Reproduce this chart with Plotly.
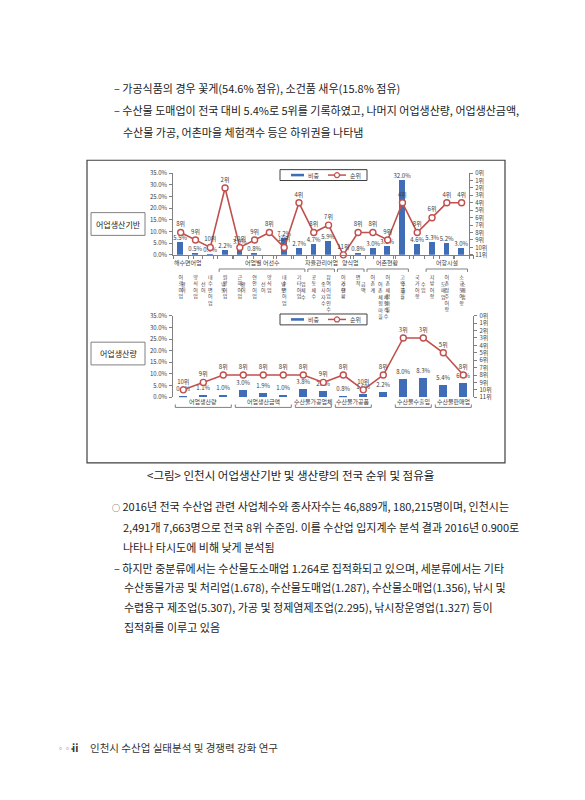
import plotly.graph_objects as go

W, H = 585, 800

# ---------------- data ----------------
cats1 = ["어로어업", "양식어업", "내수면어업", "원양어업", "근해어업", "연안어업", "양식업",
         "내수면어업", "기타어업", "공동체 수", "참여어업인 수", "어가현황", "면적", "어촌계",
         "어촌체험마을", "고령화율", "국가어항", "지방어항", "어촌정주어항", "소규모어항"]
share1 = [5.5, 0.5, 0.3, 2.2, 3.9, 0.8, None, 7.2, 2.7, 4.7, 5.9, None, 0.8, 3.0, 3.6,
          32.0, 4.6, 5.3, 5.2, 3.0]
rank1 = [8, 9, 10, 2, 10, 9, 8, 10, 4, 8, 7, 11, 8, 8, 9, 4, 8, 6, 4, 4]
groups1 = [("해수면어업", 0, 1, False), ("어업별 어선수", 3, 8, True), ("자율관리어업", 9, 10, True),
           ("양식업", 11, 12, True), ("어촌현황", 13, 15, True), ("어항시설", 17, 19, True)]

cats2 = ["활어", "선어", "냉동", "활어", "선어", "냉동", "업체수", "종사자수", "수량", "금액",
         "어촌체험마을 체험객 수", "수출", "수입", "도매업", "소매업"]
share2 = [0.6, 1.1, 1.0, 3.0, 1.9, 1.0, 3.8, 2.9, 0.8, 1.6, 2.2, 8.0, 8.3, 5.4, 6.3]
rank2 = [10, 9, 8, 8, 8, 8, 8, 9, 8, 10, 8, 3, 3, 5, 8]
groups2 = [("어업생산량", 0, 2, True), ("어업생산금액", 3, 5, True), ("수산물가공업체", 6, 7, True),
           ("수산물가공품", 8, 9, True), ("수산물수출입", 11, 12, True), ("수산물판매업", 13, 14, True)]

share_ticks = [0, 5, 10, 15, 20, 25, 30, 35]
rank_ticks = list(range(0, 12))
legend_names = ["비중", "순위"]

top_lines = [
    (112, 84, "– 가공식품의 경우 꽃게(54.6% 점유), 소건품 새우(15.8% 점유)"),
    (112, 106, "– 수산물 도매업이 전국 대비 5.4%로 5위를 기록하였고, 나머지 어업생산량, 어업생산금액,"),
    (121, 128, "수산물 가공, 어촌마을 체험객수 등은 하위권을 나타냄"),
]
caption = "<그림> 인천시 어업생산기반 및 생산량의 전국 순위 및 점유율"
body_lines = [
    (110, 507, "<span style='font-size:8px'>○</span> 2016년 전국 수산업 관련 사업체수와 종사자수는 46,889개, 180,215명이며, 인천시는"),
    (121, 528, "2,491개 7,663명으로 전국 8위 수준임. 이를 수산업 입지계수 분석 결과 2016년 0.900로"),
    (121, 548, "나타나 타시도에 비해 낮게 분석됨"),
    (112, 569, "– 하지만 중분류에서는 수산물도소매업 1.264로 집적화되고 있으며, 세분류에서는 기타"),
    (122, 589, "수산동물가공 및 처리업(1.678), 수산물도매업(1.287), 수산물소매업(1.356), 낚시 및"),
    (122, 609, "수렵용구 제조업(5.307), 가공 및 정제염제조업(2.295), 낚시장운영업(1.327) 등이"),
    (122, 629, "집적화를 이루고 있음"),
]
footer = "인천시 수산업 실태분석 및 경쟁력 강화 연구"

FONT = "Noto Sans CJK KR"
BAR = "#3F6DB8"
LINE = "#C0504D"
TXT = "#404040"


def X(px):
    return px / W


def Y(py):
    return 1 - py / H


def stack(label):
    words = label.split(" ")
    if len(label.replace(" ", "")) >= 10:
        c1 = words[0]
        c2 = "".join(words[1:])
        rows = []
        n = max(len(c1), len(c2) + 2)
        for i in range(n):
            a = c1[i] if i < len(c1) else "　"
            j = i - 2
            b = c2[j] if 0 <= j < len(c2) else "　"
            rows.append(a + " " + b)
        return "<br>".join(rows)
    return "<br>".join(list(label.replace(" ", "")))


fig = go.Figure()

idx1 = list(range(len(cats1)))
idx2 = list(range(len(cats2)))

for idx, share, rank, xa, ya, yb in [(idx1, share1, rank1, "x", "y", "y2"),
                                     (idx2, share2, rank2, "x2", "y3", "y4")]:
    fig.add_trace(go.Bar(x=idx, y=share, width=0.4, marker=dict(color=BAR, line=dict(width=0)),
                         text=["" if v is None else f"{v:.1f}%" for v in share],
                         textposition="outside", constraintext="none",
                         textfont=dict(size=6, color=TXT, family=FONT), cliponaxis=False,
                         name=legend_names[0], xaxis=xa, yaxis=ya, showlegend=False))
    fig.add_trace(go.Scatter(x=idx, y=rank, mode="lines+markers+text",
                             text=[f"{r}위" for r in rank], textposition="top center",
                             textfont=dict(size=6, color=TXT, family=FONT), cliponaxis=False,
                             line=dict(color=LINE, width=1.6),
                             marker=dict(symbol="circle", size=6, color="white",
                                         line=dict(color=LINE, width=1.4)),
                             name=legend_names[1], xaxis=xa, yaxis=yb, showlegend=False))


def xaxis_cfg(cats, dom, standoff):
    n = len(cats)
    return dict(domain=dom, range=[-0.5, n - 0.5], showgrid=False, zeroline=False,
                showline=True, linecolor="#808080", linewidth=1,
                tickmode="array", tickvals=list(range(n)), ticktext=[stack(c) for c in cats],
                ticks="", tickfont=dict(size=5, color=TXT, family=FONT),
                ticklabelstandoff=standoff, tickangle=0, fixedrange=True,
                minor=dict(tickmode="array", tickvals=[i + 0.5 for i in range(-1, n)],
                           ticks="outside", ticklen=3, tickcolor="#808080"))


def yleft_cfg(dom, anchor):
    return dict(domain=dom, anchor=anchor, range=[0, 35], tickmode="array", tickvals=share_ticks,
                ticktext=[f"{v:.1f}%" for v in share_ticks], showgrid=False, zeroline=False,
                showline=True, linecolor="#808080", linewidth=1, ticks="outside", ticklen=3,
                tickcolor="#808080", tickfont=dict(size=6, color=TXT, family=FONT), ticklabelstandoff=1)


def yright_cfg(over, anchor):
    return dict(overlaying=over, anchor=anchor, side="right", range=[11, 0], tickmode="array",
                tickvals=rank_ticks, ticktext=[f"{v}위" for v in rank_ticks], showgrid=False,
                zeroline=False, showline=True, linecolor="#808080", linewidth=1, ticks="outside",
                ticklen=3, tickcolor="#808080", tickfont=dict(size=6, color=TXT, family=FONT),
                ticklabelstandoff=1)


fig.update_layout(
    width=W, height=H, margin=dict(l=0, r=0, t=0, b=0),
    paper_bgcolor="white", plot_bgcolor="rgba(0,0,0,0)",
    font=dict(family=FONT, color="#222222"),
    bargap=0, showlegend=False,
    xaxis=xaxis_cfg(cats1, [X(173.3), X(469)], 17),
    yaxis=yleft_cfg([Y(252.7), Y(170)], "x"),
    yaxis2=yright_cfg("y", "x"),
    xaxis2=xaxis_cfg(cats2, [X(173.3), X(473.3)], 24),
    yaxis3=yleft_cfg([Y(396.7), Y(314.3)], "x2"),
    yaxis4=yright_cfg("y3", "x2"),
)

annotations = []
shapes = []

# frame
shapes.append(dict(type="rect", xref="paper", yref="paper", x0=X(87), x1=X(505), y0=Y(463), y1=Y(157),
                   line=dict(color="#404040", width=1.2)))
# side label boxes
for (y0, y1, label) in [(210, 233, "어업생산기반"), (341, 364, "어업생산량")]:
    shapes.append(dict(type="rect", xref="paper", yref="paper", x0=X(91), x1=X(145), y0=Y(y1), y1=Y(y0),
                       line=dict(color="#808080", width=1), fillcolor="white"))
    annotations.append(dict(x=X(118), y=Y((y0 + y1) / 2), xref="paper", yref="paper", text=label,
                            showarrow=False, font=dict(size=8, color="#222222", family=FONT),
                            xanchor="center", yanchor="middle"))

# legends (drawn as small keyed boxes)
for ly in [172, 318]:
    shapes.append(dict(type="rect", xref="paper", yref="paper", x0=X(280), x1=X(367),
                       y0=Y(ly + 5.5), y1=Y(ly - 5.5), line=dict(color="#404040", width=1),
                       fillcolor="white"))
    shapes.append(dict(type="rect", xref="paper", yref="paper", x0=X(291), x1=X(304),
                       y0=Y(ly + 1.3), y1=Y(ly - 1.3), line=dict(width=0), fillcolor=BAR))
    shapes.append(dict(type="line", xref="paper", yref="paper", x0=X(328), x1=X(346),
                       y0=Y(ly), y1=Y(ly), line=dict(color=LINE, width=1.5)))
    shapes.append(dict(type="circle", xref="paper", yref="paper", x0=X(334.5), x1=X(339.5),
                       y0=Y(ly + 2.5), y1=Y(ly - 2.5), line=dict(color=LINE, width=1.2),
                       fillcolor="white"))
    annotations.append(dict(x=X(306), y=Y(ly), xref="paper", yref="paper", text=legend_names[0],
                            showarrow=False, font=dict(size=6, color=TXT, family=FONT),
                            xanchor="left", yanchor="middle"))
    annotations.append(dict(x=X(348), y=Y(ly), xref="paper", yref="paper", text=legend_names[1],
                            showarrow=False, font=dict(size=6, color=TXT, family=FONT),
                            xanchor="left", yanchor="middle"))

# group labels and brackets
for xr, groups, ty, ly, sign in [("x", groups1, 260, 267, 1), ("x2", groups2, 401, 407, -1)]:
    for name, i0, i1, br in groups:
        annotations.append(dict(x=(i0 + i1) / 2, y=Y(ty), xref=xr, yref="paper", text=name,
                                showarrow=False, font=dict(size=6, color=TXT, family=FONT),
                                xanchor="center", yanchor="middle"))
        if br:
            a, b = i0 - 0.4, i1 + 0.4
            yl, ye = Y(ly), Y(ly + 3 * sign)
            shapes.append(dict(type="path", xref=xr, yref="paper",
                               path=f"M {a},{ye} L {a},{yl} L {b},{yl} L {b},{ye}",
                               line=dict(color="#606060", width=0.8)))

for (x0, yc, t) in top_lines + body_lines:
    annotations.append(dict(x=X(x0), y=Y(yc), xref="paper", yref="paper", text=t, showarrow=False,
                            font=dict(size=11, color="#222222", family=FONT),
                            xanchor="left", yanchor="middle"))

annotations.append(dict(x=X(290), y=Y(475), xref="paper", yref="paper",
                        text=caption.replace("<", "&lt;").replace(">", "&gt;"),
                        showarrow=False, font=dict(size=11.5, color="#222222", family=FONT),
                        xanchor="center", yanchor="middle"))

# footer
annotations.append(dict(x=X(55), y=Y(751), xref="paper", yref="paper", text="◦◦•",
                        showarrow=False, font=dict(size=7, color="#555555", family=FONT),
                        xanchor="left", yanchor="middle"))
annotations.append(dict(x=X(70), y=Y(751), xref="paper", yref="paper", text="<b>ii</b>",
                        showarrow=False, font=dict(size=10.5, color="#333333", family=FONT),
                        xanchor="left", yanchor="middle"))
annotations.append(dict(x=X(88), y=Y(751), xref="paper", yref="paper", text=footer,
                        showarrow=False, font=dict(size=10.5, color="#333333", family=FONT),
                        xanchor="left", yanchor="middle"))

fig.update_layout(annotations=annotations, shapes=shapes)

fig.write_html("out.html", config={"displayModeBar": False},
               post_script="document.body.style.margin='0px';")
